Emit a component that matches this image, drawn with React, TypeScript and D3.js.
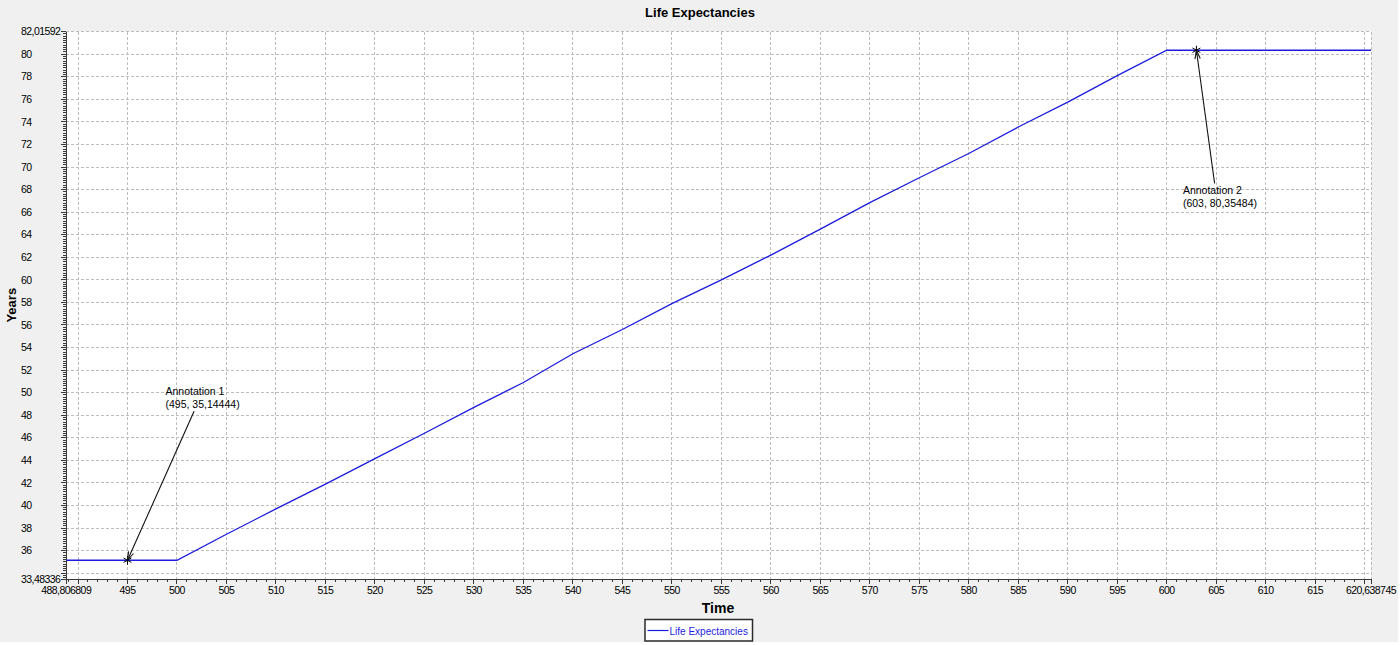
import { useEffect, useRef } from 'react'
import * as d3 from 'd3'

// axis extents as the original chart auto-scaled them
const xDomain = [488.806809, 620.638745]
const yDomain = [33.48336, 82.01592]

// series: Life Expectancies (time -> years)
const times = [488.806809, 500, 505, 510, 515, 520, 525, 530, 535, 540, 545, 550, 555, 560, 565, 570, 575, 580, 585, 590, 595, 600, 620.638745]
const years = [35.14444, 35.14444, 37.45, 39.7, 41.9, 44.15, 46.4, 48.7, 50.9, 53.45, 55.6, 57.9, 60.0, 62.2, 64.5, 66.85, 69.05, 71.2, 73.55, 75.75, 78.1, 80.35484, 80.35484]

const xMajorTicks = d3.range(490, 621, 5)
const xMinorTicks = d3.range(489, 621, 1)
const yMajorTicks = d3.range(34, 83, 2)
const yMinorTicks = d3.range(33.6, 82.01, 0.2)

const annotationNames = ['Annotation 1', 'Annotation 2']
const annotationX = [495, 603]
const annotationY = [35.14444, 80.35484]

const fmt = (v: number) => String(v).replace('.', ',')

export default function App() {
  const svgRef = useRef<SVGSVGElement>(null)

  useEffect(() => {
    if (!svgRef.current) return
    const svg = d3.select(svgRef.current)
    svg.selectAll('*').remove()

    const width = 1400
    const height = 645
    const plot = { left: 66.2, right: 1371, top: 31.5, bottom: 579 }
    const font = '"Liberation Sans", Arial, sans-serif'

    svg.attr('width', width).attr('height', height)

    // window background
    svg.append('rect')
      .attr('width', 1398).attr('height', 642)
      .attr('fill', '#f0f0f0')

    const x = d3.scaleLinear().domain(xDomain).range([plot.left, plot.right])
    const y = d3.scaleLinear().domain(yDomain).range([plot.bottom, plot.top])

    // plot area
    svg.append('rect')
      .attr('x', plot.left).attr('y', plot.top)
      .attr('width', plot.right - plot.left)
      .attr('height', plot.bottom - plot.top)
      .attr('fill', '#ffffff')

    // grid
    const grid = svg.append('g')
      .attr('stroke', '#bdbdbd')
      .attr('stroke-width', 1)
      .attr('stroke-dasharray', '3,2')
      .attr('shape-rendering', 'crispEdges')

    grid.selectAll('line.gx').data(xMajorTicks).join('line')
      .attr('x1', d => x(d)).attr('x2', d => x(d))
      .attr('y1', plot.top).attr('y2', plot.bottom)

    grid.selectAll('line.gy').data(yMajorTicks).join('line')
      .attr('x1', plot.left).attr('x2', plot.right)
      .attr('y1', d => y(d)).attr('y2', d => y(d))

    // dashed frame on top and right
    grid.append('line')
      .attr('x1', plot.left).attr('x2', plot.right)
      .attr('y1', plot.top).attr('y2', plot.top)
    grid.append('line')
      .attr('x1', plot.right).attr('x2', plot.right)
      .attr('y1', plot.top).attr('y2', plot.bottom)

    // axes
    const axes = svg.append('g')
      .attr('stroke', '#3a3a3a')
      .attr('stroke-width', 1)
      .attr('shape-rendering', 'crispEdges')

    axes.append('line')
      .attr('x1', plot.left).attr('x2', plot.right)
      .attr('y1', plot.bottom).attr('y2', plot.bottom)
    axes.append('line')
      .attr('x1', plot.left).attr('x2', plot.left)
      .attr('y1', plot.top).attr('y2', plot.bottom)

    axes.selectAll('line.xmin').data(xMinorTicks).join('line')
      .attr('x1', d => x(d)).attr('x2', d => x(d))
      .attr('y1', plot.bottom).attr('y2', plot.bottom + 3)
    axes.selectAll('line.xmaj').data([...xMajorTicks, ...xDomain]).join('line')
      .attr('x1', d => x(d)).attr('x2', d => x(d))
      .attr('y1', plot.bottom).attr('y2', plot.bottom + 5)

    axes.selectAll('line.ymin').data(yMinorTicks).join('line')
      .attr('x1', plot.left - 3).attr('x2', plot.left)
      .attr('y1', d => y(d)).attr('y2', d => y(d))
    axes.selectAll('line.ymaj').data([...yMajorTicks, ...yDomain]).join('line')
      .attr('x1', plot.left - 5).attr('x2', plot.left)
      .attr('y1', d => y(d)).attr('y2', d => y(d))

    // tick labels (the end values replace the nearest round ticks)
    const xLabels = [xDomain[0], ...xMajorTicks.filter(d => d > 490 && d < 620), xDomain[1]]
    svg.append('g').selectAll('text').data(xLabels).join('text')
      .attr('x', d => x(d))
      .attr('y', plot.bottom + 15)
      .attr('text-anchor', 'middle')
      .attr('font-family', font)
      .attr('font-size', 10.5)
      .attr('letter-spacing', -0.55)
      .attr('fill', '#000')
      .text(d => fmt(d))

    const yLabels = [yDomain[0], ...yMajorTicks.filter(d => d > 34 && d < 82), yDomain[1]]
    svg.append('g').selectAll('text').data(yLabels).join('text')
      .attr('x', 21)
      .attr('y', d => y(d))
      .attr('dy', '0.35em')
      .attr('font-family', font)
      .attr('font-size', 10.5)
      .attr('letter-spacing', -0.55)
      .attr('fill', '#000')
      .text(d => fmt(d))

    // series line
    const pts = times.map((t, i) => [t, years[i]] as [number, number])
    const line = d3.line<[number, number]>()
      .x(d => x(d[0]))
      .y(d => y(d[1]))

    svg.append('path')
      .datum(pts)
      .attr('fill', 'none')
      .attr('stroke', '#1c1cdc')
      .attr('stroke-width', 1.3)
      .attr('d', line)

    // annotations: text offset, arrow start offset (px from the point)
    const textOffset = [[38, -165], [-13.5, 144]]
    const arrowOffset = [[66.6, -149], [18.2, 133.3]]

    annotationNames.forEach((name, i) => {
      const px = x(annotationX[i])
      const py = y(annotationY[i])
      const g = svg.append('g')

      // star marker
      const r = 4.5
      const star = g.append('g').attr('stroke', '#000').attr('stroke-width', 1)
      star.append('line').attr('x1', px).attr('x2', px).attr('y1', py - r).attr('y2', py + r)
      star.append('line').attr('x1', px - r * 0.87).attr('x2', px + r * 0.87).attr('y1', py - r / 2).attr('y2', py + r / 2)
      star.append('line').attr('x1', px - r * 0.87).attr('x2', px + r * 0.87).attr('y1', py + r / 2).attr('y2', py - r / 2)

      // arrow
      const sx = px + arrowOffset[i][0]
      const sy = py + arrowOffset[i][1]
      g.append('line')
        .attr('x1', sx).attr('y1', sy)
        .attr('x2', px).attr('y2', py)
        .attr('stroke', '#111').attr('stroke-width', 1.1)
      const ang = Math.atan2(sy - py, sx - px)
      const headLen = 9
      ;[-0.3, 0.3].forEach(da => {
        g.append('line')
          .attr('x1', px).attr('y1', py)
          .attr('x2', px + headLen * Math.cos(ang + da))
          .attr('y2', py + headLen * Math.sin(ang + da))
          .attr('stroke', '#111').attr('stroke-width', 1.1)
      })

      const t = g.append('text')
        .attr('x', px + textOffset[i][0])
        .attr('y', py + textOffset[i][1])
        .attr('font-family', font)
        .attr('font-size', 10.5)
        .attr('fill', '#000')
      t.append('tspan').attr('x', px + textOffset[i][0]).text(name)
      t.append('tspan').attr('x', px + textOffset[i][0]).attr('dy', 13)
        .text(`(${annotationX[i]}, ${fmt(annotationY[i])})`)
    })

    // title and axis titles
    svg.append('text')
      .attr('x', 700).attr('y', 17)
      .attr('text-anchor', 'middle')
      .attr('font-family', font).attr('font-weight', 'bold').attr('font-size', 13)
      .text('Life Expectancies')

    svg.append('text')
      .attr('transform', `translate(16,${(plot.top + plot.bottom) / 2}) rotate(-90)`)
      .attr('text-anchor', 'middle')
      .attr('font-family', font).attr('font-weight', 'bold').attr('font-size', 13)
      .text('Years')

    svg.append('text')
      .attr('x', 718).attr('y', 613)
      .attr('text-anchor', 'middle')
      .attr('font-family', font).attr('font-weight', 'bold').attr('font-size', 14)
      .text('Time')

    // legend
    const legend = svg.append('g').attr('transform', 'translate(645,619.5)')
    legend.append('rect')
      .attr('width', 107.5).attr('height', 21.5)
      .attr('fill', '#ffffff')
      .attr('stroke', '#2a2a2a').attr('stroke-width', 1.5)
    legend.append('line')
      .attr('x1', 2.5).attr('x2', 23.5)
      .attr('y1', 11).attr('y2', 11)
      .attr('stroke', '#1c1cdc').attr('stroke-width', 1.2)
    legend.append('text')
      .attr('x', 24.5).attr('y', 15)
      .attr('font-family', font).attr('font-size', 10)
      .attr('fill', '#1c1cdc')
      .text('Life Expectancies')
  }, [])

  return (
    <div style={{ position: 'absolute', left: 0, top: 0 }}>
      <svg ref={svgRef} style={{ display: 'block' }} />
    </div>
  )
}
